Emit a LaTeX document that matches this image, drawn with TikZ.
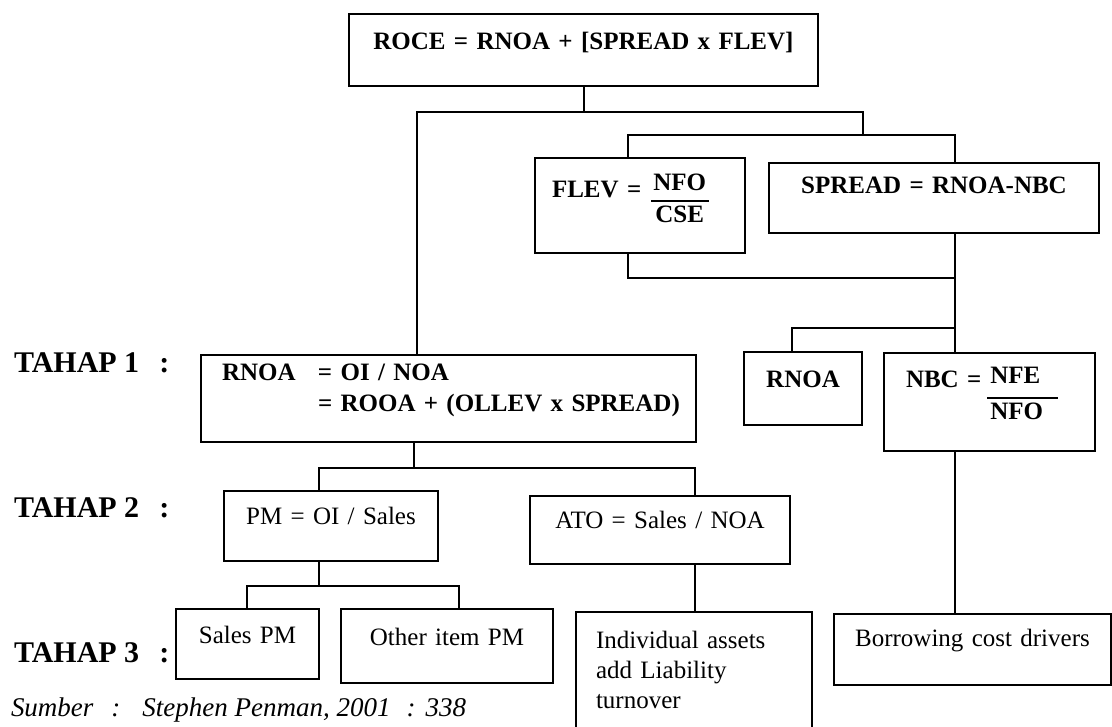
\documentclass[tikz,border=0pt]{standalone}
\usepackage{fontspec}
\setmainfont{Liberation Serif}
\usepackage{amsmath}
\usepackage{tikz}
\setlength{\arrayrulewidth}{2pt}

\begin{document}
\begin{tikzpicture}[
    x=1pt,
    y=-1pt,
    line width=2pt,
    mybox/.style={
      draw,
      anchor=north west,
      inner xsep=6pt,
      inner ysep=0pt,
      align=center,
      font=\fontsize{25}{30}\selectfont
    },
    myboldbox/.style={
      mybox,
      font=\fontsize{25}{30}\selectfont\bfseries
    },
    mylabel/.style={
      anchor=base west,
      inner sep=0pt,
      font=\fontsize{30}{36}\selectfont\bfseries
    }
    ]
    \useasboundingbox (0,0) rectangle (1112,727);

    \node[myboldbox,text width=457pt,text height=36pt,text depth=36pt] (roce) at (348,13) {ROCE = RNOA + [SPREAD x FLEV]};
    \node[myboldbox,align=left,inner xsep=17pt,text width=176pt,text height=40pt,text depth=55pt] (flev) at (534,157) {FLEV =\hspace{10pt}\raisebox{7pt}{\begin{tabular}[t]{@{\hspace{2pt}}c@{\hspace{3pt}}}NFO\\\hline CSE\end{tabular}}};
    \node[myboldbox,text width=318pt,text height=31pt,text depth=39pt] (spread) at (768,162) {SPREAD = RNOA-NBC};

    \node[myboldbox,align=left,inner xsep=5pt,text width=485pt,text height=26pt,text depth=61pt,font=\fontsize{25}{31}\selectfont\bfseries] (rnoa) at (200,354) {\hspace*{16pt}\makebox[96pt][l]{RNOA}= OI / NOA\\\hspace*{112pt}= ROOA + (OLLEV x SPREAD)};
    \node[myboldbox,text width=106pt,text height=36pt,text depth=37pt] (rnoab) at (743,351) {RNOA};
    \node[myboldbox,align=left,inner xsep=22pt,text width=167pt,text height=35pt,text depth=63pt] (nbc) at (883,352) {NBC =\hspace{6pt}\raisebox{4pt}{\begin{tabular}[t]{@{\hspace{3pt}}l@{\hspace{15pt}}}NFE\\[4pt]\hline NFO\end{tabular}}};

    \node[mybox,text width=202pt,text height=33pt,text depth=37pt] (pm) at (223,490) {PM = OI / Sales};
    \node[mybox,text width=248pt,text height=32pt,text depth=36pt] (ato) at (529,495) {ATO = Sales / NOA};

    \node[mybox,text width=131pt,text height=34pt,text depth=36pt] (salespm) at (175,608) {Sales PM};
    \node[mybox,text width=200pt,text height=36pt,text depth=38pt] (other) at (340,608) {Other item PM};
    \node[mybox,align=left,inner xsep=20pt,text width=196pt,text height=36pt,text depth=93pt] (indiv) at (575,611) {Individual assets\\add Liability\\turnover};
    \node[mybox,text width=265pt,text height=32pt,text depth=39pt] (borrow) at (833,613) {Borrowing cost drivers};

    \node[mylabel] (tahap1) at (13,373) {TAHAP 1\hspace{20pt}:};
    \node[mylabel] (tahap2) at (13,517) {TAHAP 2\hspace{20pt}:};
    \node[mylabel] (tahap3) at (13,662) {TAHAP 3\hspace{20pt}:};
    \node[anchor=base west,inner sep=0pt,font=\fontsize{27}{32}\selectfont\itshape] (source) at (10,716) {Sumber\hspace{18pt}:\hspace{22pt}Stephen Penman, 2001\hspace{16pt}:\hspace{10pt}338};

    \coordinate (ja) at (417,112);
    \coordinate (jb) at (863,112);
    \coordinate (jc) at (628,135);
    \coordinate (jd) at (955,135);
    \coordinate (je) at (628,278);
    \coordinate (jf) at (955,278);
    \coordinate (jg) at (792,328);
    \coordinate (jh) at (955,328);
    \coordinate (jk) at (414,468);
    \coordinate (jl) at (319,468);
    \coordinate (jm) at (695,468);
    \coordinate (jn) at (247,586);
    \coordinate (jo) at (459,586);

    \draw (roce.south) -- (roce.south |- ja);
    \draw (ja |- rnoa.north) -- (ja) -- (jb) -- (jb |- jc);
    \draw (jc |- flev.north) -- (jc) -- (jd) -- (jd |- spread.north);
    \draw (je |- flev.south) -- (je) -- (jf);
    \draw (jd |- spread.south) -- (jd |- nbc.north);
    \draw (jh) -- (jg) -- (jg |- rnoab.north);
    \draw (jd |- nbc.south) -- (jd |- borrow.north);

    \draw (jk |- rnoa.south) -- (jk);
    \draw (jl |- pm.north) -- (jl) -- (jm) -- (jm |- ato.north);
    \draw (jl |- pm.south) -- (jl |- jn);
    \draw (jn |- salespm.north) -- (jn) -- (jo) -- (jo |- other.north);
    \draw (jm |- ato.south) -- (jm |- indiv.north);

\end{tikzpicture}
\end{document}
